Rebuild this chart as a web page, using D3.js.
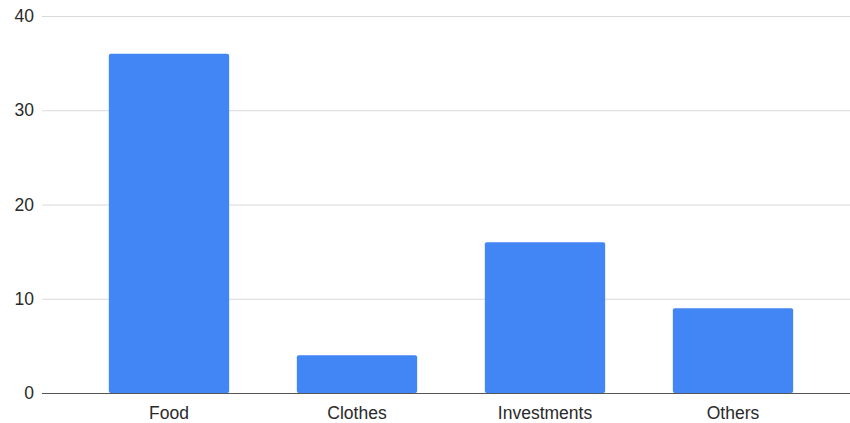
<!DOCTYPE html>
<html>
<head>
<meta charset="utf-8">
<script src="https://cdn.jsdelivr.net/npm/d3@7"></script>
<style>
  body { margin: 0; background: #fff; }
  text { font-family: "Liberation Sans", Arial, sans-serif; }
</style>
</head>
<body>
<div id="chart"></div>
<script>
var categories = ["Food", "Clothes", "Investments", "Others"];
var values = [36, 4, 16, 9];
var yTicks = [0, 10, 20, 30, 40];

var width = 850, height = 423;
var gridLeft = 42, gridRight = 850;

var svg = d3.select("#chart")
  .append("svg")
  .attr("width", width)
  .attr("height", height);

var x = d3.scaleBand()
  .domain(categories)
  .range([75, 827])
  .paddingInner(0.36)
  .paddingOuter(0.18);

var y = d3.scaleLinear()
  .domain([0, 40])
  .range([393, 16]);

// gridlines
svg.selectAll(".grid")
  .data(yTicks.filter(function(d) { return d > 0; }))
  .enter()
  .append("line")
  .attr("x1", gridLeft)
  .attr("x2", gridRight)
  .attr("y1", function(d) { return y(d) + 0.5; })
  .attr("y2", function(d) { return y(d) + 0.5; })
  .attr("stroke", "#d9d9d9")
  .attr("stroke-width", 1);

// y labels
svg.selectAll(".ylab")
  .data(yTicks)
  .enter()
  .append("text")
  .attr("x", 34)
  .attr("y", function(d) { return y(d); })
  .attr("dy", "0.35em")
  .attr("text-anchor", "end")
  .attr("font-size", 17.5)
  .attr("fill", "#2a2a2a")
  .text(function(d) { return d; });

// bars
svg.selectAll(".bar")
  .data(values)
  .enter()
  .append("rect")
  .attr("x", function(d, i) { return x(categories[i]); })
  .attr("y", function(d) { return y(d); })
  .attr("width", x.bandwidth())
  .attr("height", function(d) { return y(0) - y(d); })
  .attr("rx", 2)
  .attr("fill", "#4285f4");

// baseline
svg.append("line")
  .attr("x1", gridLeft)
  .attr("x2", gridRight)
  .attr("y1", y(0) + 0.5)
  .attr("y2", y(0) + 0.5)
  .attr("stroke", "#555")
  .attr("stroke-width", 1.2);

// x labels
svg.selectAll(".xlab")
  .data(categories)
  .enter()
  .append("text")
  .attr("x", function(d) { return x(d) + x.bandwidth() / 2; })
  .attr("y", 419)
  .attr("text-anchor", "middle")
  .attr("font-size", 17.5)
  .attr("fill", "#2a2a2a")
  .text(function(d) { return d; });
</script>
</body>
</html>
